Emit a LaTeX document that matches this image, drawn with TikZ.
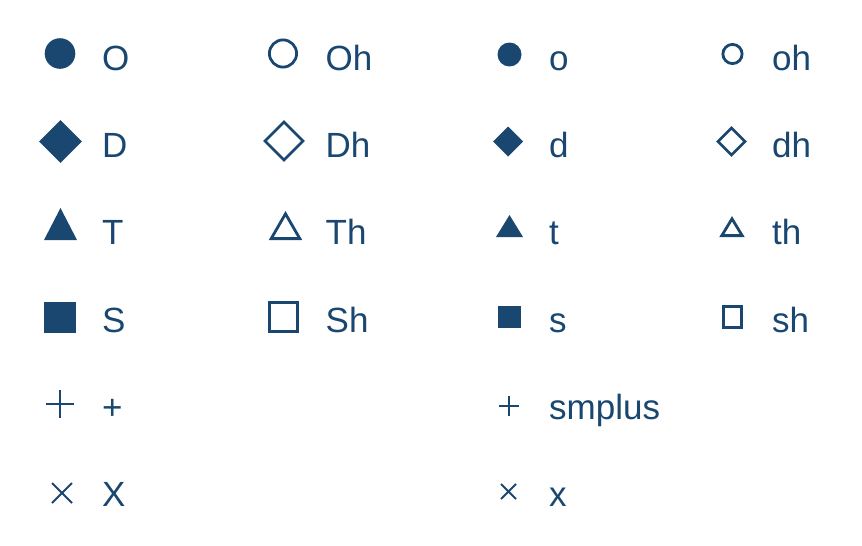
\documentclass[tikz,border=0pt]{standalone}
\usepackage{fontspec}
\setmainfont{Liberation Sans}
\usetikzlibrary{positioning}
\definecolor{navy}{HTML}{1A476F}

\begin{document}
\begin{tikzpicture}[
  x=1pt,y=-1pt,
  solid/.style={fill=navy,draw=none},
  hollow/.style={draw=navy,line width=2.8pt,line join=miter},
  stroke/.style={draw=navy,line width=2.1pt},
  lbl/.style={anchor=base west,inner sep=0pt,text=navy,
              font=\fontsize{35}{40}\selectfont},
]
\useasboundingbox (0,0) rectangle (862,546);
% ---------- row 1: circles ----------
\fill[solid] (60,53.5) circle (15.3);
\draw[hollow] (283,53.5) circle (13.6);
\fill[solid] (509.5,54.5) circle (12);
\draw[hollow] (732.5,54) circle (9.6);
% ---------- row 2: diamonds ----------
\fill[solid,shift={(60.5,141.5)}] (-21.3,0) -- (0,-21.3) -- (21.3,0) -- (0,21.3) -- cycle;
\draw[hollow,shift={(284,141)}] (-19,0) -- (0,-19) -- (19,0) -- (0,19) -- cycle;
\fill[solid,shift={(508,141.5)}] (-15,0) -- (0,-15) -- (15,0) -- (0,15) -- cycle;
\draw[hollow,shift={(731.5,141.5)}] (-13.5,0) -- (0,-13.5) -- (13.5,0) -- (0,13.5) -- cycle;
% ---------- row 3: triangles ----------
\fill[solid] (44,240) -- (77,240) -- (60.5,208) -- cycle;
\draw[hollow] (271.2,238.6) -- (299.8,238.6) -- (285.5,213.8) -- cycle;
\fill[solid] (496,237) -- (523,237) -- (509.5,215) -- cycle;
\draw[hollow] (721.8,235.6) -- (742.2,235.6) -- (732,218.8) -- cycle;
% ---------- row 4: squares ----------
\fill[solid] (44,302) rectangle (76,333);
\draw[hollow] (269.4,302.4) rectangle (297.6,331.6);
\fill[solid] (498,306) rectangle (521,328);
\draw[hollow] (723.4,306.4) rectangle (741.6,327.6);
% ---------- row 5: plus ----------
\draw[stroke] (46,404) -- (74,404) (60,390) -- (60,418);
\draw[stroke] (499,406) -- (519,406) (509,396) -- (509,416);
% ---------- row 6: cross ----------
\draw[stroke,shift={(62,493)}] (-10,-10) -- (10,10) (-10,10) -- (10,-10);
\draw[stroke,shift={(508.5,491.5)}] (-7.5,-7.5) -- (7.5,7.5) (-7.5,7.5) -- (7.5,-7.5);
% ---------- labels ----------
\foreach \t/\n/\x/\y in {O/O/102/70, Oh/Oh/325.5/70, o/o/549/70, oh/oh/772/70,
    D/D/102/157, Dh/Dh/325.5/157, d/d/549/157, dh/dh/772/157,
    T/T/102/244, Th/Th/325.5/244, t/t/549/244, th/th/772/244,
    S/S/102/332, Sh/Sh/325.5/332, s/s/549/332, sh/sh/772/332,
    +/plus/102/419, smplus/smplus/549/419,
    X/X/102/506, x/x/549/506}
  \node[lbl] (l\n) at (\x,\y) {\t};
\end{tikzpicture}
\end{document}
